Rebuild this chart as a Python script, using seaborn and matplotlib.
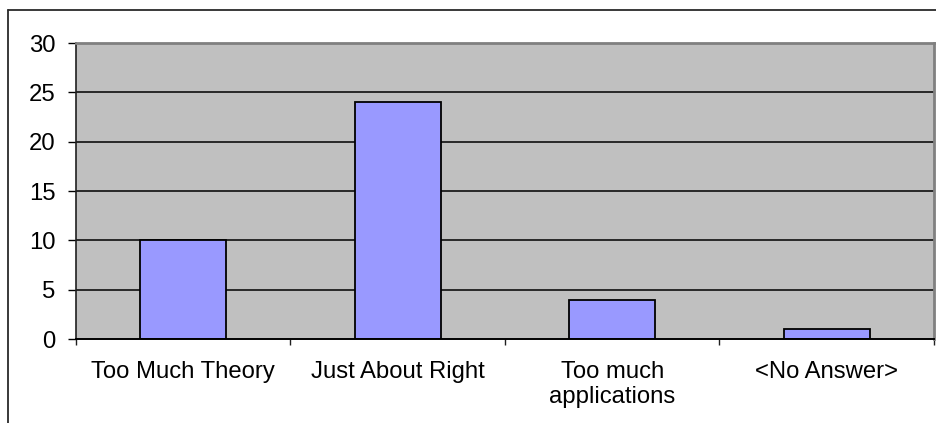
import matplotlib
matplotlib.use("Agg")
import matplotlib.pyplot as plt
from matplotlib.lines import Line2D
import seaborn as sns
import pandas as pd
import numpy as np

# Survey responses: balance of theory vs. applications
categories = ["Too Much Theory", "Just About Right", "Too much\napplications", "<No Answer>"]
counts = [10, 24, 4, 1]
y_ticks = [0, 5, 10, 15, 20, 25, 30]

sns.set_theme(style="white")
plt.rcParams["font.family"] = ["Liberation Sans", "DejaVu Sans"]
FS = 17.2
plt.rcParams["font.size"] = FS

df = pd.DataFrame({"category": categories, "count": counts})

W, H, DPI = 937, 423, 100
fig = plt.figure(figsize=(W / DPI, H / DPI), dpi=DPI, facecolor="white")
ax = fig.add_axes([76 / W, 1 - 339 / H, (934 - 76) / W, (339 - 43) / H])
ax.set_facecolor("#C0C0C0")

sns.barplot(data=df, x="category", y="count", color="#9999FF", saturation=1,
            width=0.4, edgecolor="black", linewidth=1.3, ax=ax, zorder=3)

ax.set_xlim(-0.5, len(categories) - 0.5)
ax.set_ylim(y_ticks[0], y_ticks[-1])
ax.set_yticks(y_ticks)
ax.set_xlabel("")
ax.set_ylabel("")

# horizontal gridlines at the interior value ticks
for t in y_ticks[1:-1]:
    ax.axhline(t, color="black", linewidth=1.1, zorder=1)

# spines: dark value/category axes, grey plot-area border
for side in ("top", "right"):
    ax.spines[side].set_color("#808080")
    ax.spines[side].set_linewidth(2)
ax.spines["left"].set_color("#202020")
ax.spines["left"].set_linewidth(1.2)
ax.spines["bottom"].set_color("black")
ax.spines["bottom"].set_linewidth(1.4)
for s in ax.spines.values():
    s.set_zorder(4)

# value axis ticks
ax.tick_params(axis="y", which="major", direction="out", length=5.8, width=1,
               color="black", pad=9.0, labelsize=FS, labelcolor="black", left=True)
# category axis: labels centred under bars, tick marks between categories
ax.set_xticks(np.arange(len(categories) + 1) - 0.5, minor=True)
ax.tick_params(axis="x", which="major", length=0, pad=16, labelsize=FS, labelcolor="black")
ax.tick_params(axis="x", which="minor", direction="out", length=4.5, width=1,
               color="#202020", bottom=True)
for lbl in ax.get_xticklabels():
    lbl.set_linespacing(1.18)

# chart-area frame
fig.add_artist(Line2D([8 / W, 8 / W], [0, 1 - 10 / H], transform=fig.transFigure,
                      color="#2a2a2a", linewidth=1.3))
fig.add_artist(Line2D([8 / W, 1], [1 - 10 / H, 1 - 10 / H], transform=fig.transFigure,
                      color="#2a2a2a", linewidth=1.3))

fig.savefig("out.png", dpi=DPI, facecolor="white")
